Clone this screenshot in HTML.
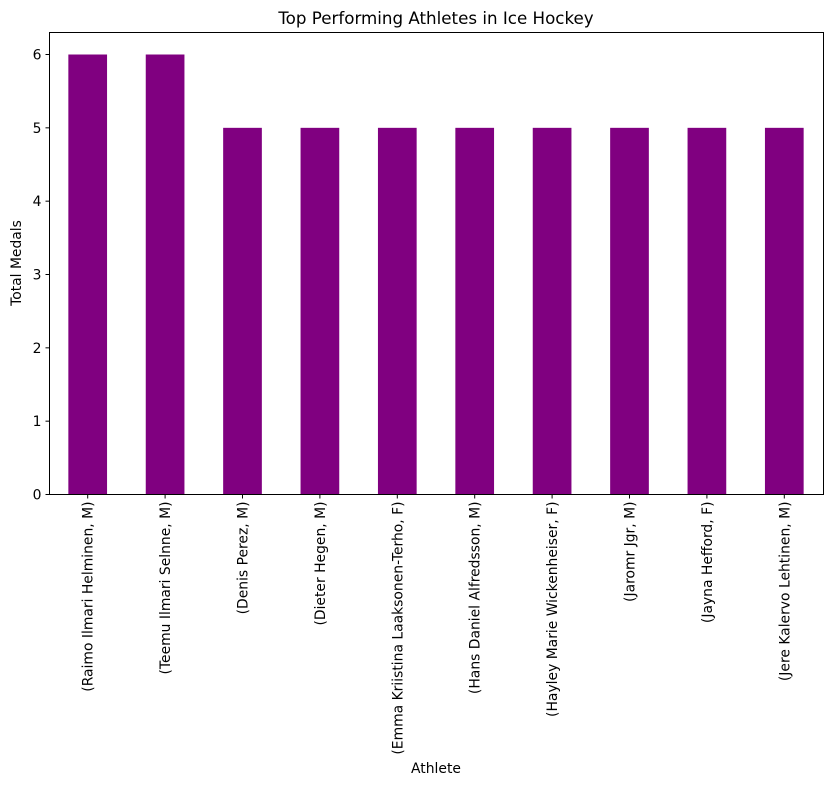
<!DOCTYPE html>
<html><head><meta charset="utf-8"><style>
body{margin:0;background:#fff;}
svg{display:block;font-family:"DejaVu Sans","Liberation Sans",sans-serif;}
</style></head><body>
<svg id="chart" width="833" height="786">
<rect x="0" y="0" width="833" height="786" fill="#fff"/>
<text x="436" y="24" text-anchor="middle" font-size="16.7">Top Performing Athletes in Ice Hockey</text>
<g id="bars"></g>
<g id="yaxis"></g>
<g id="xaxis"></g>
<rect x="49.5" y="32.5" width="774" height="462" fill="none" stroke="#000" stroke-width="1"/>
<text x="436" y="773" text-anchor="middle" font-size="13.9">Athlete</text>
<text transform="translate(21,263) rotate(-90)" text-anchor="middle" font-size="13.9">Total Medals</text>
</svg>
<script>
const categories = ["(Raimo Ilmari Helminen, M)","(Teemu Ilmari Selnne, M)","(Denis Perez, M)","(Dieter Hegen, M)","(Emma Kriistina Laaksonen-Terho, F)","(Hans Daniel Alfredsson, M)","(Hayley Marie Wickenheiser, F)","(Jaromr Jgr, M)","(Jayna Hefford, F)","(Jere Kalervo Lehtinen, M)"];
const values = [6,6,5,5,5,5,5,5,5,5];
const yTicks = [0,1,2,3,4,5,6];

const NS="http://www.w3.org/2000/svg";
const L=49.5,R=823.5,T=32.5,B=494.5;
const yMax=Math.max(...values)*1.05;
const x=i=>L+(i+0.5)*(R-L)/categories.length;
const y=v=>B-v/yMax*(B-T);
const bw=0.5*(R-L)/categories.length;
const gb=document.getElementById('bars'),gy=document.getElementById('yaxis'),gx=document.getElementById('xaxis');
function mk(t,a,p){const e=document.createElementNS(NS,t);for(const k in a)e.setAttribute(k,a[k]);p.appendChild(e);return e;}
values.forEach((v,i)=>{
  const r=mk('rect',{x:x(i)-bw/2-0.5,y:y(v),width:bw,height:B-y(v),fill:'#800080'},gb);
  
  
});
yTicks.forEach(t=>{
  const l=mk('line',{x1:L-4,x2:L,y1:y(t),y2:y(t),stroke:'#000'},gy);
  
  
  const tx=mk('text',{x:L-8,y:y(t)+5,'text-anchor':'end','font-size':'13.9'},gy);
  tx.textContent=t;
  
  
});
categories.forEach((c,i)=>{
  const l=mk('line',{x1:x(i)-0.5,x2:x(i)-0.5,y1:B,y2:B+4,stroke:'#000'},gx);
  
  
  const tx=mk('text',{transform:`translate(${x(i)+4.5},${B+7}) rotate(-90)`,'text-anchor':'end','font-size':'13.9'},gx);
  tx.textContent=c;
  
  
});
</script>
</body></html>
